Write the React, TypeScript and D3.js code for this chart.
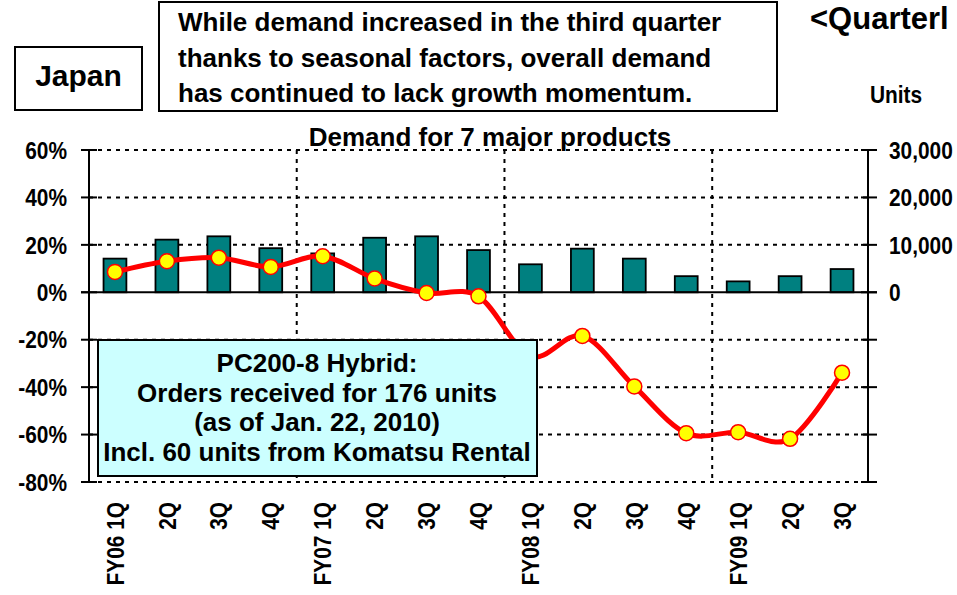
import React from "react";
import * as d3 from "d3";

const categories = [
  "FY06 1Q", "2Q", "3Q", "4Q",
  "FY07 1Q", "2Q", "3Q", "4Q",
  "FY08 1Q", "2Q", "3Q", "4Q",
  "FY09 1Q", "2Q", "3Q",
];
// demand in units (bars, right axis)
const units = [7100, 11100, 11800, 9300, 8200, 11500, 11800, 8900, 5900, 9200, 7100, 3400, 2300, 3400, 4900];
// year-on-year change in % (line, left axis)
const yoy = [8.6, 13.1, 14.6, 10.7, 15.2, 5.8, -0.3, -1.7, -27, -18.4, -39.7, -59.4, -59.0, -61.8, -33.9];
const leftTicks = [60, 40, 20, 0, -20, -40, -60, -80];
const rightTicks = [0, 10000, 20000, 30000];
const fyStarts = [4, 8, 12];

const headline = [
  "While demand increased in the third quarter",
  "thanks to seasonal factors, overall demand",
  "has continued to lack growth momentum.",
];
const note = [
  "PC200-8 Hybrid:",
  "Orders received for 176 units",
  "(as of Jan. 22, 2010)",
  "Incl. 60 units from Komatsu Rental",
];

const W = 957;
const H = 595;
const FONT = "'Liberation Sans', Arial, Helvetica, sans-serif";
const SQ = 0.87; // labels look horizontally condensed

const App: React.FC = () => {
  const left = 89;
  const right = 868;
  const top = 150;
  const bottom = 482;

  const x = d3
    .scaleBand<number>()
    .domain(categories.map((_, i) => i))
    .range([left, right]);
  const bw = x.bandwidth();
  const cx = (i: number) => (x(i) as number) + bw / 2;

  const yL = d3.scaleLinear().domain([-80, 60]).range([bottom, top]);
  const yR = d3.scaleLinear().domain([-40000, 30000]).range([bottom, top]);

  const line = d3
    .line<number>()
    .x((_, i) => cx(i))
    .y((d) => yL(d))
    .curve(d3.curveCatmullRom.alpha(0));

  const barW = bw * 0.44;

  return (
    <svg
      width={W}
      height={H}
      style={{ position: "fixed", left: 0, top: 0, background: "#fff" }}
      fontFamily={FONT}
      fontWeight="bold"
    >
      {/* headline boxes */}
      <rect x={15} y={47} width={127} height={63} fill="#fff" stroke="#000" strokeWidth={2} />
      <text x={78.5} y={86} fontSize={30} textAnchor="middle">
        Japan
      </text>
      <rect x={159} y={2} width={618} height={109} fill="#fff" stroke="#000" strokeWidth={2} />
      {headline.map((t, i) => (
        <text key={i} x={178} y={31 + i * 35.5} fontSize={26}>
          {t}
        </text>
      ))}
      {/* the title runs off the right edge in the reference; only this part shows */}
      <text x={810} y={29} fontSize={31}>
        {"<Quarterl"}
      </text>
      <text x={0} y={0} fontSize={24} transform={`translate(870,103) scale(${SQ},1)`}>
        Units
      </text>
      <text x={490} y={146} fontSize={26} textAnchor="middle">
        Demand for 7 major products
      </text>

      {/* grid */}
      {leftTicks
        .filter((t) => t !== 0)
        .map((t) => (
          <line
            key={t}
            x1={left}
            x2={right}
            y1={yL(t)}
            y2={yL(t)}
            stroke="#000"
            strokeWidth={2}
            strokeDasharray="4,5"
          />
        ))}
      {fyStarts.map((i) => (
        <line
          key={i}
          x1={x(i)}
          x2={x(i)}
          y1={top}
          y2={bottom}
          stroke="#000"
          strokeWidth={2}
          strokeDasharray="4,5"
        />
      ))}

      {/* bars */}
      {units.map((v, i) => (
        <rect
          key={i}
          x={cx(i) - barW / 2}
          y={yR(v)}
          width={barW}
          height={yR(0) - yR(v)}
          fill="#008080"
          stroke="#000"
          strokeWidth={1.8}
        />
      ))}

      {/* axes */}
      <line x1={left - 8} x2={right + 9} y1={yL(0)} y2={yL(0)} stroke="#000" strokeWidth={2} />
      <line x1={left} x2={left} y1={top} y2={bottom} stroke="#000" strokeWidth={2} />
      <line x1={right} x2={right} y1={top} y2={bottom} stroke="#000" strokeWidth={2} />
      {leftTicks.map((t) => (
        <g key={t}>
          <line x1={left - 8} x2={left + 8} y1={yL(t)} y2={yL(t)} stroke="#000" strokeWidth={2} />
          <text
            fontSize={24}
            textAnchor="end"
            dy="0.36em"
            transform={`translate(67,${yL(t)}) scale(${SQ},1)`}
          >
            {t + "%"}
          </text>
        </g>
      ))}
      {leftTicks.map((t) => (
        <line key={"r" + t} x1={right - 7} x2={right + 9} y1={yL(t)} y2={yL(t)} stroke="#000" strokeWidth={2} />
      ))}
      {rightTicks.map((t) => (
        <text
          key={t}
          fontSize={24}
          dy="0.36em"
          transform={`translate(889,${yR(t)}) scale(${SQ},1)`}
        >
          {d3.format(",")(t)}
        </text>
      ))}
      {categories.map((c, i) => (
        <text
          key={i}
          fontSize={24}
          textAnchor="end"
          dy="0.36em"
          transform={`translate(${cx(i)},502) rotate(-90) scale(${SQ},1)`}
        >
          {c}
        </text>
      ))}

      {/* line */}
      <path d={line(yoy) || ""} fill="none" stroke="#ff0000" strokeWidth={5} strokeLinejoin="round" />
      {yoy.map((v, i) => (
        <circle key={i} cx={cx(i)} cy={yL(v)} r={7.5} fill="#ffff00" stroke="#ff0000" strokeWidth={1.5} />
      ))}

      {/* note box */}
      <rect x={98} y={340} width={439} height={136} fill="#ccffff" stroke="#000" strokeWidth={2} />
      {note.map((t, i) => (
        <text key={i} x={317} y={372 + i * 29.6} fontSize={26} textAnchor="middle">
          {t}
        </text>
      ))}
    </svg>
  );
};

export default App;
